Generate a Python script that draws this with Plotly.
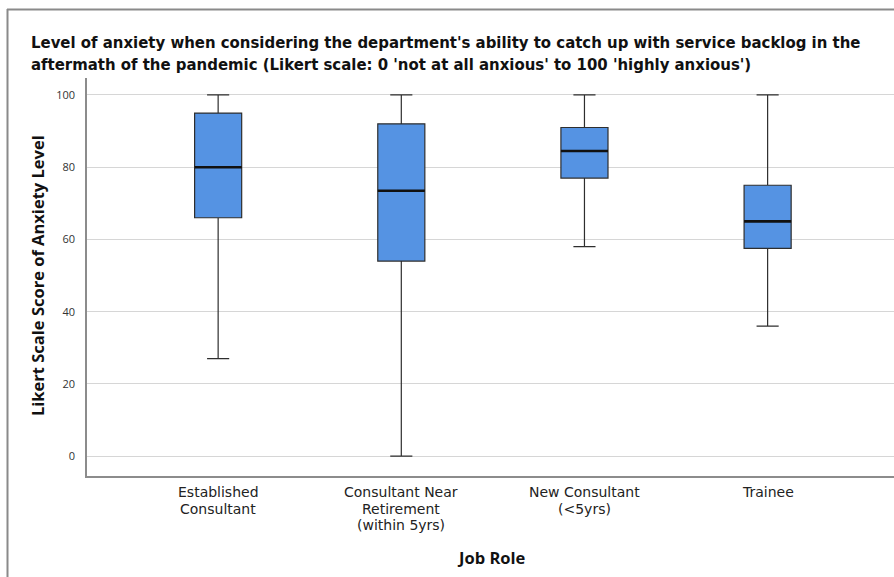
import plotly.graph_objects as go

# Summary statistics per job role (Likert 0-100 anxiety score)
roles = ["Established<br>Consultant", "Consultant Near<br>Retirement<br>(within 5yrs)",
         "New Consultant<br>(<5yrs)", "Trainee"]
lower_whisker = [27, 0, 58, 36]
q1_vals = [66, 54, 77, 57.5]
median_vals = [80, 73.5, 84.5, 65]
q3_vals = [95, 92, 91, 75]
upper_whisker = [100, 100, 100, 100]
y_ticks = [0, 20, 40, 60, 80, 100]

title_lines = [
    "Level of anxiety when considering the department's ability to catch up with service backlog in the",
    "aftermath of the pandemic (Likert scale: 0 'not at all anxious' to 100 'highly anxious')",
]

W, H = 894, 577
L, R, T, B = 87, 0, 78, 101
plot_w = W - L - R
plot_h = H - T - B

box_w = 0.257
xs = list(range(len(roles)))

fig = go.Figure()
fig.add_trace(go.Box(
    x=xs, q1=q1_vals, median=median_vals, q3=q3_vals,
    lowerfence=lower_whisker, upperfence=upper_whisker,
    width=box_w, whiskerwidth=0.47,
    fillcolor="#5593e3", line=dict(color="#2e2e2e", width=1.2),
    boxpoints=False, hoverinfo="skip", showlegend=False,
))

# Heavier median bars on top of each box
for x, m in zip(xs, median_vals):
    fig.add_trace(go.Scatter(
        x=[x - box_w / 2, x + box_w / 2], y=[m, m], mode="lines",
        line=dict(color="#111111", width=2.6), hoverinfo="skip", showlegend=False,
    ))

fig.update_layout(
    width=W, height=H,
    margin=dict(l=L, r=R, t=T, b=B),
    paper_bgcolor="white", plot_bgcolor="white",
    font=dict(family="Open Sans, DejaVu Sans, sans-serif", color="#222222"),
    xaxis=dict(
        range=[-0.716, 3.69], tickmode="array", tickvals=xs, ticktext=roles,
        showticklabels=False,
        showgrid=False, zeroline=False, showline=True, linecolor="#8c8c8c", linewidth=1.5,
        ticks="", fixedrange=True,
    ),
    yaxis=dict(
        range=[-5.5, 104.7], tickmode="array", tickvals=y_ticks,
        showgrid=True, gridcolor="#d6d6d6", gridwidth=1.2, zeroline=False,
        showline=True, linecolor="#8c8c8c", linewidth=1.5, ticks="",
        tickfont=dict(size=11, color="#333333"), ticklabelstandoff=8, fixedrange=True,
    ),
)

def px_x(p):
    return (p - L) / plot_w

def px_y(p):
    return (H - B - p) / plot_h

# Outer frame lines
fig.add_shape(type="line", xref="paper", yref="paper",
              x0=px_x(7), x1=px_x(894), y0=px_y(9.5), y1=px_y(9.5),
              line=dict(color="#8a8a8a", width=2))
fig.add_shape(type="line", xref="paper", yref="paper",
              x0=px_x(7.5), x1=px_x(7.5), y0=px_y(9), y1=px_y(577),
              line=dict(color="#8a8a8a", width=2))

# Two-line chart title
fig.add_annotation(
    xref="paper", yref="paper", x=px_x(29), y=px_y(53),
    xanchor="left", yanchor="middle", align="left", showarrow=False,
    text="<b>" + "<br>".join(title_lines) + "</b>",
    font=dict(family="DejaVu Sans Condensed, DejaVu Sans, sans-serif", size=16.6, color="#111111"),
)

# Category labels under the x axis, centred on each box
for x, role in zip(xs, roles):
    for k, part in enumerate(role.split("<br>")):
        fig.add_annotation(
            xref="x", yref="paper", x=x, y=px_y(492 + 16.5 * k),
            xanchor="center", yanchor="middle", showarrow=False,
            text=part,
            font=dict(family="DejaVu Sans, sans-serif", size=14, color="#222222"),
        )

# Axis titles
fig.add_annotation(
    xref="paper", yref="paper", x=px_x(37), y=px_y(276), textangle=-90, showarrow=False,
    xanchor="center", yanchor="middle",
    text="<b>Likert Scale Score of Anxiety Level</b>",
    font=dict(family="Open Sans, DejaVu Sans, sans-serif", size=16.5, color="#111111"),
)
fig.add_annotation(
    xref="paper", yref="paper", x=px_x(491), y=px_y(557), showarrow=False,
    xanchor="center", yanchor="middle",
    text="<b>Job Role</b>",
    font=dict(family="Open Sans, DejaVu Sans, sans-serif", size=16.5, color="#111111"),
)

fig.write_html("out.html")
